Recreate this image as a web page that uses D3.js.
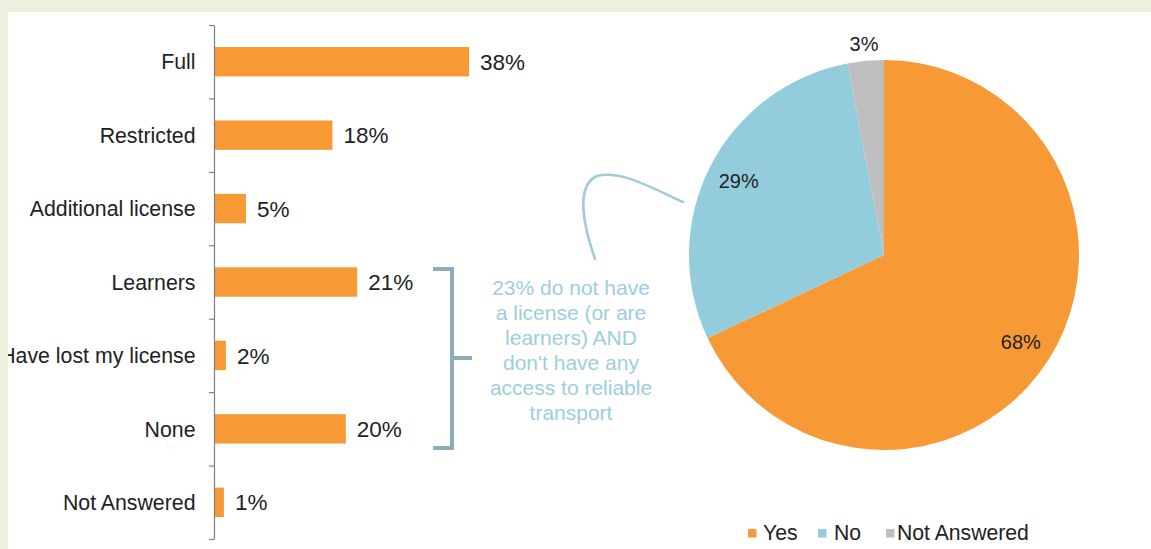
<!DOCTYPE html>
<html>
<head>
<meta charset="utf-8">
<script src="https://cdn.jsdelivr.net/npm/d3@7/dist/d3.min.js"></script>
<style>
  html, body { margin: 0; padding: 0; background: #fff; }
  svg { display: block; font-family: "Liberation Sans", Arial, sans-serif; }
</style>
</head>
<body>
<svg id="chart" width="1151" height="549"></svg>
<script>
// ---- Data ----
const categories = ["Full", "Restricted", "Additional license", "Learners", "Have lost my license", "None", "Not Answered"];
const barValues = [38.0, 17.6, 4.7, 21.3, 1.7, 19.6, 1.4];
const barLabels = ["38%", "18%", "5%", "21%", "2%", "20%", "1%"];

const pieCategories = ["Yes", "No", "Not Answered"];
const pieValues = [68, 29, 3];
const pieLabels = ["68%", "29%", "3%"];

const annotationLines = ["23% do not have", "a license (or are", "learners) AND", "don't have any", "access to reliable", "transport"];

// ---- Styles ----
const ORANGE = "#F79A36";
const BLUE = "#93CDDC";
const GRAY = "#BFBFBF";
const pieColors = [ORANGE, BLUE, GRAY];
const TEXT = "#222";

const svg = d3.select("#chart");

// white panel
svg.append("rect").attr("x", 0).attr("y", 0).attr("width", 1151).attr("height", 549).attr("fill", "#fff");

// ---- Bar chart ----
const y = d3.scaleBand().domain(categories).range([25, 539]).paddingInner(0.6).paddingOuter(0.3);
const x = d3.scaleLinear().domain([0, 40]).range([214.5, 214.5 + 268]);

const gBars = svg.append("g");
gBars.selectAll("rect.bar").data(categories).join("rect")
  .attr("class", "bar")
  .attr("x", x(0))
  .attr("y", d => y(d))
  .attr("width", (d, i) => x(barValues[i]) - x(0))
  .attr("height", y.bandwidth())
  .attr("fill", ORANGE);

gBars.selectAll("text.val").data(categories).join("text")
  .attr("class", "val")
  .attr("x", (d, i) => x(barValues[i]) + 11)
  .attr("y", d => y(d) + y.bandwidth() / 2)
  .attr("dy", "0.36em")
  .attr("font-size", 22.5)
  .attr("fill", TEXT)
  .text((d, i) => barLabels[i]);

gBars.selectAll("text.cat").data(categories).join("text")
  .attr("class", "cat")
  .attr("x", 195.5)
  .attr("y", d => y(d) + y.bandwidth() / 2)
  .attr("dy", "0.36em")
  .attr("text-anchor", "end")
  .attr("font-size", 21.3)
  .attr("fill", TEXT)
  .text(d => d);

// category axis with ticks between categories
const yEdge = d3.scaleLinear().domain([0, categories.length]).range([25, 539]);
const axis = d3.axisLeft(yEdge).tickValues(d3.range(0, categories.length + 1)).tickFormat("").tickSize(5).tickSizeOuter(0);
const gAxis = svg.append("g").attr("transform", "translate(214,0)").call(axis);
gAxis.select(".domain").attr("stroke", "#7F7F7F").attr("stroke-width", 1.2);
gAxis.selectAll(".tick line").attr("stroke", "#7F7F7F").attr("stroke-width", 1.2);

// ---- Bracket annotation ----
const ANN = "#8DADBB";
svg.append("path")
  .attr("d", "M433,269 H452 V448 H433 M452,358 H472")
  .attr("fill", "none").attr("stroke", ANN).attr("stroke-width", 4);

svg.append("g").selectAll("text").data(annotationLines).join("text")
  .attr("x", 571)
  .attr("y", (d, i) => 295 + i * 25)
  .attr("text-anchor", "middle")
  .attr("font-size", 21)
  .attr("fill", "#9CCEDD")
  .text(d => d);

svg.append("path")
  .attr("d", "M595,259 C585,230 574,186 597,176 C620,170 650,187 683,202")
  .attr("fill", "none").attr("stroke", "#A3CBD8").attr("stroke-width", 2.5).attr("stroke-linecap", "round");

// ---- Pie chart ----
const cx = 884, cy = 255, R = 195;
const pie = d3.pie().sort(null).value(d => d)(pieValues);
const arc = d3.arc().innerRadius(0).outerRadius(R);
const gPie = svg.append("g").attr("transform", `translate(${cx},${cy})`);
gPie.selectAll("path").data(pie).join("path")
  .attr("d", arc)
  .attr("fill", (d, i) => pieColors[i]);

const labelR = [162, 163, 212];
gPie.selectAll("text").data(pie).join("text")
  .attr("transform", (d, i) => {
    const a = (d.startAngle + d.endAngle) / 2;
    return `translate(${labelR[i] * Math.sin(a)},${-labelR[i] * Math.cos(a)})`;
  })
  .attr("dy", "0.36em")
  .attr("text-anchor", "middle")
  .attr("font-size", 20)
  .attr("fill", TEXT)
  .text((d, i) => pieLabels[i]);

// ---- Legend ----
const legendX = [748, 818, 886];
const gLeg = svg.append("g");
pieCategories.forEach((c, i) => {
  gLeg.append("rect").attr("x", legendX[i]).attr("y", 529).attr("width", 8.5).attr("height", 8.5).attr("fill", pieColors[i]);
  gLeg.append("text").attr("x", legendX[i] + (i === 2 ? 11 : (i === 0 ? 15 : 16))).attr("y", 540)
    .attr("font-size", 21.2).attr("fill", TEXT).text(c);
});

// ---- Beige frame (top and left) ----
const FRAME = "#EDEFDF";
svg.append("rect").attr("x", 0).attr("y", 0).attr("width", 1151).attr("height", 12).attr("fill", FRAME);
svg.append("rect").attr("x", 0).attr("y", 0).attr("width", 8).attr("height", 549).attr("fill", FRAME);
</script>
</body>
</html>
